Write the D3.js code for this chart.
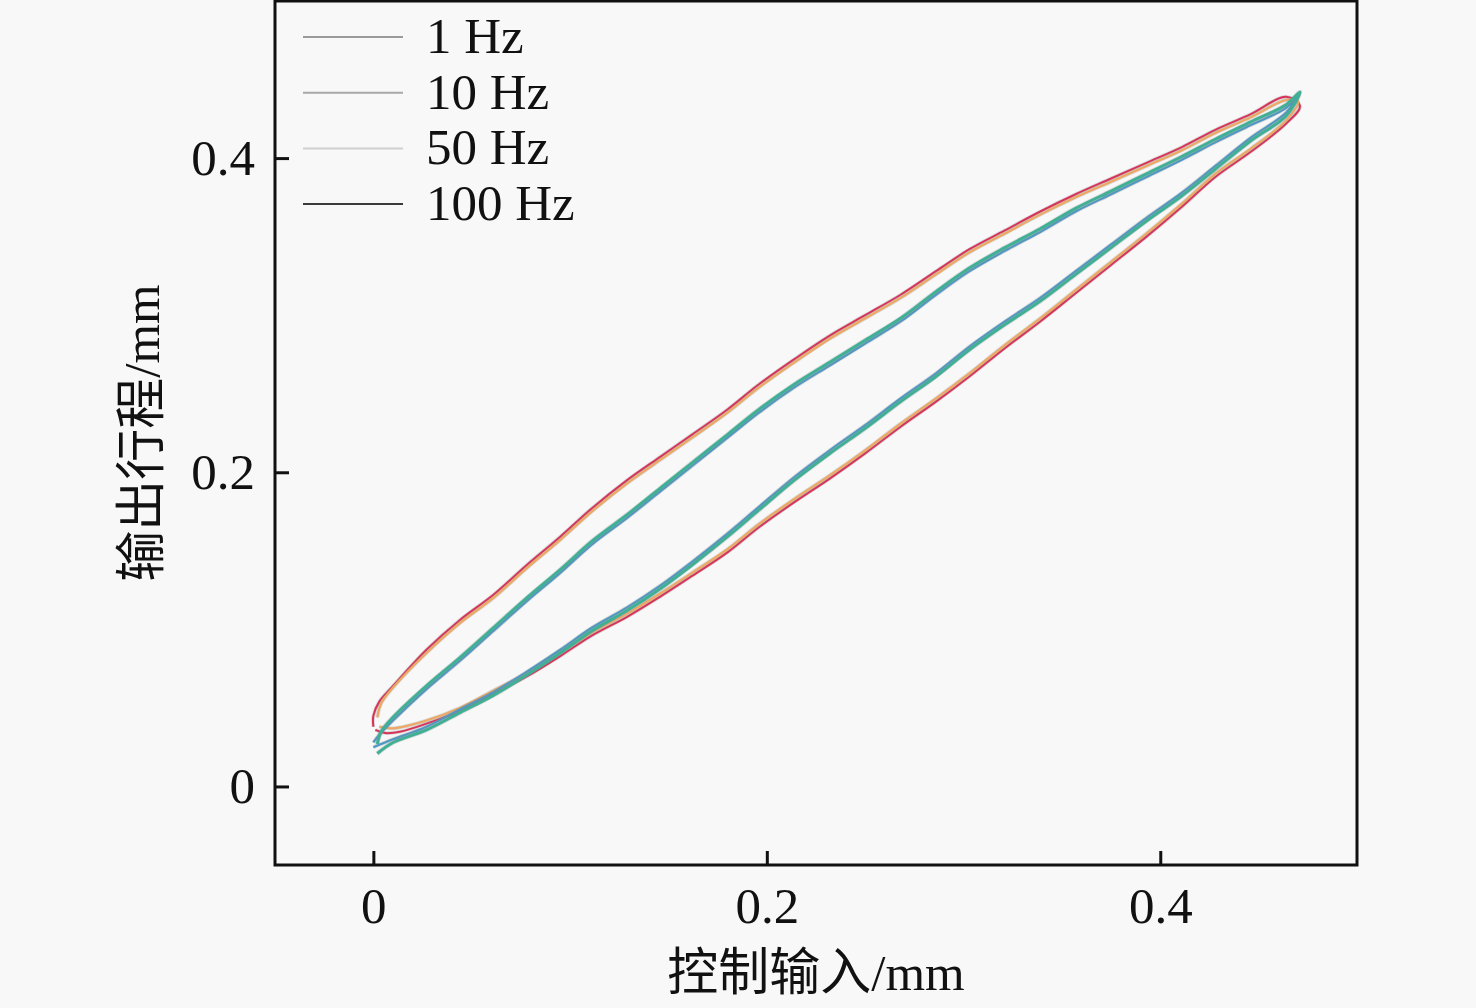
<!DOCTYPE html>
<html><head><meta charset="utf-8">
<script src="https://cdn.jsdelivr.net/npm/d3@7/dist/d3.min.js"></script>
<style>
html,body{margin:0;padding:0;background:#f8f8f8;}
svg{display:block;}
</style></head>
<body><svg id="c" width="1476" height="1008"></svg>
<script>
// ---- data ----
const seriesNames = ["1 Hz", "10 Hz", "50 Hz", "100 Hz"];
const seriesColors = ["#3fb096", "#4f98c4", "#eea862", "#d8345a"];
const legendColors = ["#9a9a9a", "#a8a8a8", "#cfcfcf", "#3a3a3a"];
const xTicks = [0, 0.2, 0.4];
const yTicks = [0, 0.2, 0.4];
const xTickLabels = ["0", "0.2", "0.4"];
const yTickLabels = ["0", "0.2", "0.4"];

// 1 Hz (inner loop): lower branch then upper branch
const hz1 = [[0.002,0.021],[0.01,0.028],[0.027,0.036],[0.044,0.047],[0.061,0.058],[0.078,0.071],[0.095,0.085],[0.111,0.099],[0.129,0.112],[0.146,0.126],[0.162,0.141],[0.18,0.159],[0.196,0.176],[0.214,0.195],[0.232,0.212],[0.25,0.228],[0.268,0.245],[0.286,0.261],[0.303,0.278],[0.321,0.294],[0.339,0.309],[0.357,0.326],[0.375,0.343],[0.393,0.36],[0.411,0.376],[0.428,0.393],[0.446,0.411],[0.464,0.427],[0.471,0.442],
 [0.464,0.434],[0.446,0.423],[0.428,0.412],[0.411,0.401],[0.393,0.39],[0.375,0.379],[0.357,0.368],[0.339,0.355],[0.321,0.343],[0.303,0.33],[0.286,0.315],[0.268,0.298],[0.25,0.284],[0.232,0.27],[0.214,0.256],[0.196,0.24],[0.18,0.224],[0.162,0.206],[0.146,0.19],[0.129,0.173],[0.111,0.156],[0.095,0.138],[0.078,0.12],[0.061,0.101],[0.044,0.082],[0.027,0.064],[0.01,0.044],[0.004,0.035],[0.002,0.027]];
// 10 Hz (inner loop)
const hz10 = [[0.0,0.025],[0.01,0.03],[0.027,0.038],[0.044,0.049],[0.061,0.06],[0.078,0.073],[0.095,0.087],[0.111,0.101],[0.129,0.114],[0.146,0.128],[0.162,0.143],[0.18,0.161],[0.196,0.178],[0.214,0.197],[0.232,0.214],[0.25,0.23],[0.268,0.247],[0.286,0.263],[0.303,0.28],[0.321,0.296],[0.339,0.311],[0.357,0.328],[0.375,0.345],[0.393,0.362],[0.411,0.378],[0.428,0.395],[0.446,0.413],[0.464,0.429],[0.47,0.44],
 [0.464,0.432],[0.446,0.421],[0.428,0.41],[0.411,0.399],[0.393,0.388],[0.375,0.377],[0.357,0.366],[0.339,0.353],[0.321,0.341],[0.303,0.328],[0.286,0.313],[0.268,0.296],[0.25,0.282],[0.232,0.268],[0.214,0.254],[0.196,0.238],[0.18,0.222],[0.162,0.204],[0.146,0.188],[0.129,0.171],[0.111,0.154],[0.095,0.136],[0.078,0.118],[0.061,0.099],[0.044,0.08],[0.027,0.062],[0.01,0.042],[0.003,0.033],[0.0,0.028]];
// 50 Hz (outer loop)
const hz50 = [[0.003,0.038],[0.01,0.037],[0.027,0.042],[0.044,0.05],[0.061,0.061],[0.078,0.072],[0.095,0.085],[0.111,0.098],[0.129,0.11],[0.146,0.123],[0.162,0.136],[0.18,0.151],[0.196,0.167],[0.214,0.183],[0.232,0.198],[0.25,0.214],[0.268,0.231],[0.286,0.247],[0.303,0.263],[0.321,0.281],[0.339,0.298],[0.357,0.316],[0.375,0.334],[0.393,0.352],[0.411,0.371],[0.428,0.39],[0.446,0.406],[0.464,0.424],[0.47,0.436],
 [0.464,0.437],[0.446,0.426],[0.428,0.416],[0.411,0.405],[0.393,0.395],[0.375,0.385],[0.357,0.375],[0.339,0.364],[0.321,0.352],[0.303,0.34],[0.286,0.326],[0.268,0.311],[0.25,0.298],[0.232,0.285],[0.214,0.27],[0.196,0.254],[0.18,0.238],[0.162,0.222],[0.146,0.208],[0.129,0.193],[0.111,0.175],[0.095,0.157],[0.078,0.139],[0.061,0.12],[0.044,0.104],[0.027,0.085],[0.01,0.063],[0.004,0.053],[0.002,0.044]];
// 100 Hz (outer loop)
const hz100 = [[0.001,0.036],[0.006,0.034],[0.014,0.035],[0.027,0.04],[0.044,0.048],[0.061,0.059],[0.078,0.07],[0.095,0.083],[0.111,0.096],[0.129,0.108],[0.146,0.121],[0.162,0.134],[0.18,0.149],[0.196,0.165],[0.214,0.181],[0.232,0.196],[0.25,0.212],[0.268,0.229],[0.286,0.245],[0.303,0.261],[0.321,0.279],[0.339,0.296],[0.357,0.314],[0.375,0.332],[0.393,0.35],[0.411,0.369],[0.428,0.388],[0.446,0.404],[0.464,0.422],[0.471,0.433],
 [0.464,0.439],[0.446,0.428],[0.428,0.418],[0.411,0.407],[0.393,0.397],[0.375,0.387],[0.357,0.377],[0.339,0.366],[0.321,0.354],[0.303,0.342],[0.286,0.328],[0.268,0.313],[0.25,0.3],[0.232,0.287],[0.214,0.272],[0.196,0.256],[0.18,0.24],[0.162,0.224],[0.146,0.21],[0.129,0.195],[0.111,0.177],[0.095,0.159],[0.078,0.141],[0.061,0.122],[0.044,0.106],[0.027,0.087],[0.01,0.064],[0.003,0.054],[0.0,0.045],[0.0,0.038]];
const seriesData = [hz1, hz10, hz50, hz100];

// ---- layout ----
const L = 275, R = 1357, T = 1, B = 865;
const FONT = "'Liberation Serif','Times New Roman','Noto Sans CJK SC',serif";
const svg = d3.select("#c");
svg.append("rect").attr("width",1476).attr("height",1008).attr("fill","#f8f8f8");

const x = d3.scaleLinear().domain([-0.05, 0.5]).range([L, R]);
const y = d3.scaleLinear().domain([-0.05, 0.5]).range([B, T]);

const line = d3.line().x(d => x(d[0])).y(d => y(d[1])).curve(d3.curveCatmullRom.alpha(0.5));

// draw order: outer loops then inner loops
const order = [3, 2, 1, 0];
const widths = [3, 2.2, 2.2, 2];
order.forEach(i => {
  svg.append("path").datum(seriesData[i])
    .attr("d", line).attr("fill","none")
    .attr("stroke", "#8a8a8a").attr("stroke-width", widths[i] + 1.6).attr("stroke-opacity", 0.3);
  svg.append("path").datum(seriesData[i])
    .attr("d", line).attr("fill","none")
    .attr("stroke", seriesColors[i]).attr("stroke-width", widths[i])
    .attr("stroke-linejoin","round");
});

// axes
const xAxis = d3.axisBottom(x).tickValues(xTicks).tickFormat((d,i)=>xTickLabels[i]).tickSize(-14).tickPadding(22);
const yAxis = d3.axisLeft(y).tickValues(yTicks).tickFormat((d,i)=>yTickLabels[i]).tickSize(-14).tickPadding(20);
const gx = svg.append("g").attr("transform",`translate(0,${B})`).call(xAxis);
const gy = svg.append("g").attr("transform",`translate(${L},0)`).call(yAxis);
[gx, gy].forEach(g => {
  g.select(".domain").remove();
  g.selectAll(".tick line").attr("stroke","#111").attr("stroke-width",3);
  g.selectAll(".tick text").attr("font-family",FONT).attr("font-size",51).attr("fill","#111");
});

// frame
svg.append("rect").attr("x",L).attr("y",T).attr("width",R-L).attr("height",B-T)
  .attr("fill","none").attr("stroke","#111").attr("stroke-width",3);

// axis titles
svg.append("text").attr("x",(L+R)/2).attr("y",990).attr("text-anchor","middle")
  .attr("font-family",FONT).attr("font-size",51).attr("fill","#111").text("控制输入/mm");
svg.append("text").attr("transform",`translate(159,${(T+B)/2}) rotate(-90)`).attr("text-anchor","middle")
  .attr("font-family",FONT).attr("font-size",51).attr("fill","#111").text("输出行程/mm");

// legend
const lg = svg.append("g");
seriesNames.forEach((name, i) => {
  const yy = 37 + i * 55.7;
  lg.append("line").attr("x1",303).attr("x2",403).attr("y1",yy).attr("y2",yy)
    .attr("stroke",legendColors[i]).attr("stroke-width",2);
  lg.append("text").attr("x",426).attr("y",yy+16).attr("font-family",FONT)
    .attr("font-size",51).attr("fill","#111").text(name);
});
</script>
</body></html>
